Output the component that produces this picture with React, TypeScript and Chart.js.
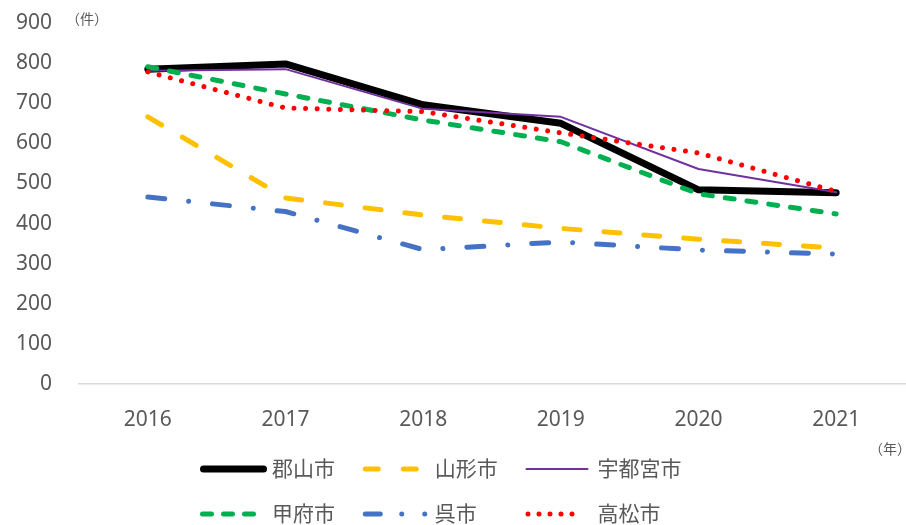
import React, { useEffect, useRef } from "react";
import { Chart, registerables } from "chart.js";

Chart.register(...registerables);

const categories = ["2016", "2017", "2018", "2019", "2020", "2021"];
const seriesNames = ["郡山市", "山形市", "宇都宮市", "甲府市", "呉市", "高松市"];
const koriyama = [785, 798, 696, 650, 484, 477];
const yamagata = [666, 464, 421, 388, 361, 339];
const utsunomiya = [781, 785, 686, 666, 536, 478];
const kofu = [791, 723, 658, 604, 474, 424];
const kure = [466, 430, 335, 354, 334, 324];
const takamatsu = [778, 688, 679, 626, 576, 480];
const yTicks = [0, 100, 200, 300, 400, 500, 600, 700, 800, 900];
const yUnit = "（件）";
const xUnit = "（年）";

const seriesValues = [koriyama, yamagata, utsunomiya, kofu, kure, takamatsu];
const seriesColors = ["#000000", "#FFC000", "#7030A0", "#00B050", "#4472C4", "#FF0000"];
const seriesWidths = [7, 5, 2, 5, 5, 5];
const seriesDash: number[][] = [[], [16, 24], [], [9, 13], [17, 24, 0.001, 24], [0.001, 11.6]];
const legendDash: number[][] = [[], [13, 25], [], [9, 12], [15, 21.5, 0.001, 23, 0.001, 100], [0.001, 11]];
const legendSampleLen = [67, 57, 63, 58, 65, 60];

const TEXT = "#595959";

export default function App() {
  const ref = useRef<HTMLCanvasElement | null>(null);
  useEffect(() => {
    if (!ref.current) return;
    const legendPlugin = {
      id: "customLegend",
      afterDraw(chart: any) {
        const ctx = chart.ctx as CanvasRenderingContext2D;
        ctx.save();
        ctx.fillStyle = TEXT;
        ctx.font = '14px "Noto Sans CJK JP"';
        ctx.textAlign = "center";
        ctx.textBaseline = "middle";
        ctx.fillText(yUnit, 87, 19);
        ctx.fillText(xUnit, 890, 449);
        for (let i = 0; i < seriesNames.length; i++) {
          const col = i % 3;
          const row = Math.floor(i / 3);
          const x0 = 200 + col * 162.75;
          const y0 = 468 + row * 45;
          ctx.beginPath();
          ctx.setLineDash(legendDash[i]);
          ctx.lineCap = "round";
          ctx.lineWidth = seriesWidths[i];
          ctx.strokeStyle = seriesColors[i];
          const half = seriesWidths[i] / 2;
          ctx.moveTo(x0 + half, y0 + 1);
          ctx.lineTo(x0 + legendSampleLen[i] - half, y0 + 1);
          ctx.stroke();
          ctx.setLineDash([]);
          ctx.fillStyle = TEXT;
          ctx.font = '21px "Noto Sans CJK JP"';
          ctx.textAlign = "left";
          ctx.textBaseline = "middle";
          ctx.fillText(seriesNames[i], x0 + 72, y0);
        }
        ctx.restore();
      },
    };
    const chart = new Chart(ref.current, {
      type: "line",
      data: {
        labels: categories,
        datasets: seriesNames.map((name, i) => ({
          label: name,
          data: seriesValues[i],
          borderColor: seriesColors[i],
          backgroundColor: seriesColors[i],
          borderWidth: seriesWidths[i],
          borderDash: seriesDash[i],
          borderCapStyle: "round" as const,
          borderJoinStyle: "round" as const,
          pointRadius: 0,
          pointHoverRadius: 0,
          tension: 0,
          fill: false,
          order: seriesNames.length - i,
        })),
      },
      options: {
        responsive: false,
        animation: false,
        events: [],
        layout: { padding: { left: 0, right: 1, top: 23, bottom: 0 } },
        plugins: {
          legend: { display: false },
          tooltip: { enabled: false },
          title: { display: false },
        },
        scales: {
          x: {
            offset: true,
            grid: { display: false, drawTicks: false },
            border: { display: true, color: "#D9D9D9", width: 1.5 },
            ticks: {
              color: TEXT,
              font: { family: '"Noto Sans"', size: 21 },
              padding: 23,
              maxRotation: 0,
            },
            afterFit(scale: any) {
              scale.height = 141;
            },
          },
          y: {
            min: 0,
            max: 900,
            afterBuildTicks(scale: any) {
              scale.ticks = yTicks.map((v) => ({ value: v }));
            },
            grid: { display: false, drawTicks: false },
            border: { display: false },
            ticks: {
              color: TEXT,
              font: { family: '"Noto Sans"', size: 21 },
              padding: 27,
            },
            afterFit(scale: any) {
              scale.width = 79;
              scale.paddingTop = 0;
              scale.paddingBottom = 0;
            },
          },
        },
      },
      plugins: [legendPlugin],
    });
    return () => chart.destroy();
  }, []);
  return (
    <div style={{ position: "absolute", left: 0, top: 0, width: 906, height: 525, background: "#fff" }}>
      <canvas ref={ref} width={906} height={525} style={{ display: "block" }} />
    </div>
  );
}
